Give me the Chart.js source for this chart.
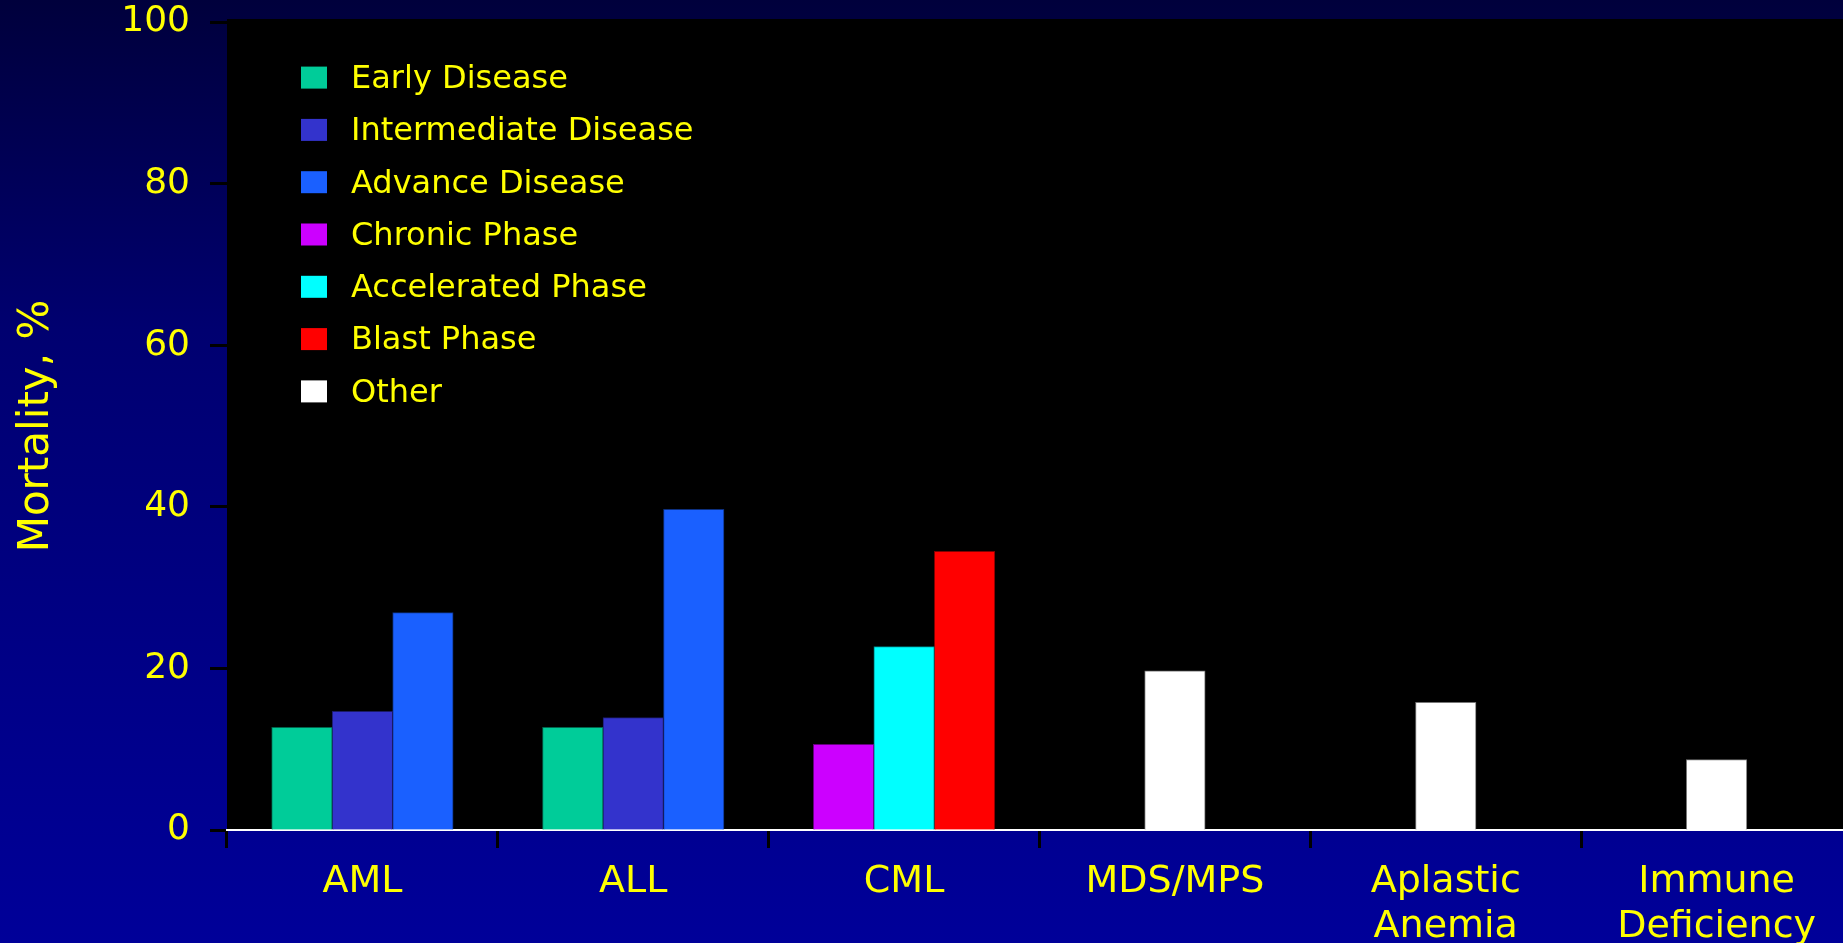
<!DOCTYPE html>
<html>
<head>
<meta charset="utf-8">
<title>Mortality by Disease</title>
<script src="https://cdn.jsdelivr.net/npm/chart.js@4.4.1/dist/chart.umd.min.js"></script>
<style>
  html, body {
    margin: 0;
    padding: 0;
    width: 1843px;
    height: 943px;
    overflow: hidden;
    background: linear-gradient(to bottom, #00003c 0%, #000070 35%, #000099 100%);
  }
  canvas { display: block; }
</style>
</head>
<body>
<canvas id="chart" width="1852" height="943"></canvas>
<script>
// Categories along the x axis (multi-line labels are arrays)
const categories = ['AML', 'ALL', 'CML', 'MDS/MPS', ['Aplastic', 'Anemia'], ['Immune', 'Deficiency']];

// Series names
const seriesNames = ['Early Disease', 'Intermediate Disease', 'Advance Disease',
  'Chronic Phase', 'Accelerated Phase', 'Blast Phase', 'Other'];

// Mortality (%) per category; null where a series does not apply
const earlyDisease        = [12.7, 12.7, null, null, null, null];
const intermediateDisease = [14.7, 13.9, null, null, null, null];
const advanceDisease      = [26.9, 39.7, null, null, null, null];
const chronicPhase        = [null, null, 10.6, null, null, null];
const acceleratedPhase    = [null, null, 22.7, null, null, null];
const blastPhase          = [null, null, 34.5, null, null, null];
const otherDisease        = [null, null, null, 19.7, 15.8, 8.7];

// Y axis tick values
const yTicks = [0, 20, 40, 60, 80, 100];

const seriesValues = [earlyDisease, intermediateDisease, advanceDisease,
  chronicPhase, acceleratedPhase, blastPhase, otherDisease];
const fillColors = ['#00cc99', '#3333cc', '#1a60ff', '#cc00ff', '#00ffff', '#ff0000', '#ffffff'];
const edgeColors = ['#00664d', '#1a1a66', '#0d3080', '#660080', '#008080', '#800000', '#777777'];

const YELLOW = '#ffff00';
const FONT = '"DejaVu Sans", Verdana, sans-serif';

// Black plotting panel behind the bars
const plotPanel = {
  id: 'plotPanel',
  beforeDraw(chart) {
    const { ctx, chartArea: a } = chart;
    ctx.save();
    ctx.fillStyle = '#000000';
    ctx.fillRect(a.left, a.top - 3, a.right - a.left, a.bottom - a.top + 3);
    ctx.restore();
  }
};

// Legend list in the upper-left corner of the panel
const panelLegend = {
  id: 'panelLegend',
  afterDraw(chart) {
    const { ctx } = chart;
    const boxX = 301, boxW = 26, boxH = 22, textX = 351;
    const firstRow = 77.6, rowStep = 52.3;
    ctx.save();
    ctx.font = '32px ' + FONT;
    ctx.textBaseline = 'middle';
    ctx.textAlign = 'left';
    chart.data.datasets.forEach((ds, i) => {
      const cy = firstRow + i * rowStep;
      ctx.fillStyle = ds.backgroundColor;
      ctx.fillRect(boxX, cy - boxH / 2, boxW, boxH);
      ctx.fillStyle = YELLOW;
      ctx.fillText(ds.label, textX, cy + 2);
    });
    ctx.restore();
  }
};

const datasets = seriesNames.map((name, i) => ({
  label: name,
  data: seriesValues[i],
  backgroundColor: fillColors[i],
  borderColor: edgeColors[i],
  borderWidth: 1,
  barThickness: 60.5,
  skipNull: true
}));

new Chart(document.getElementById('chart'), {
  type: 'bar',
  data: { labels: categories, datasets },
  plugins: [plotPanel, panelLegend],
  options: {
    responsive: false,
    animation: false,
    devicePixelRatio: 1,
    layout: { padding: { top: 22, left: 0, right: 0, bottom: 0 } },
    plugins: {
      legend: { display: false },
      tooltip: { enabled: false }
    },
    scales: {
      x: {
        type: 'category',
        offset: true,
        grid: {
          offset: true,
          drawOnChartArea: false,
          drawTicks: true,
          tickLength: 18,
          tickWidth: 3,
          tickColor: '#000000'
        },
        border: { display: true, color: '#ffffff', width: 2 },
        ticks: {
          color: YELLOW,
          font: { family: FONT, size: 38, lineHeight: 1.2 },
          padding: 11,
          maxRotation: 0,
          autoSkip: false
        },
        afterFit(scale) { scale.height = 113; }
      },
      y: {
        min: 0,
        max: 100,
        grid: {
          drawOnChartArea: false,
          drawTicks: true,
          tickLength: 17,
          tickWidth: 3,
          tickColor: '#000000'
        },
        border: { display: false },
        afterBuildTicks(scale) { scale.ticks = yTicks.map(v => ({ value: v })); },
        ticks: {
          color: YELLOW,
          font: { family: FONT, size: 36 },
          padding: 20
        },
        title: {
          display: true,
          text: 'Mortality, %',
          color: YELLOW,
          font: { family: FONT, size: 42, lineHeight: 1.2 },
          padding: { top: 12, bottom: 0 }
        },
        afterFit(scale) {
          scale.width = 227;
          scale.paddingTop = 0;
          scale.paddingBottom = 0;
        }
      }
    }
  }
});
</script>
</body>
</html>
